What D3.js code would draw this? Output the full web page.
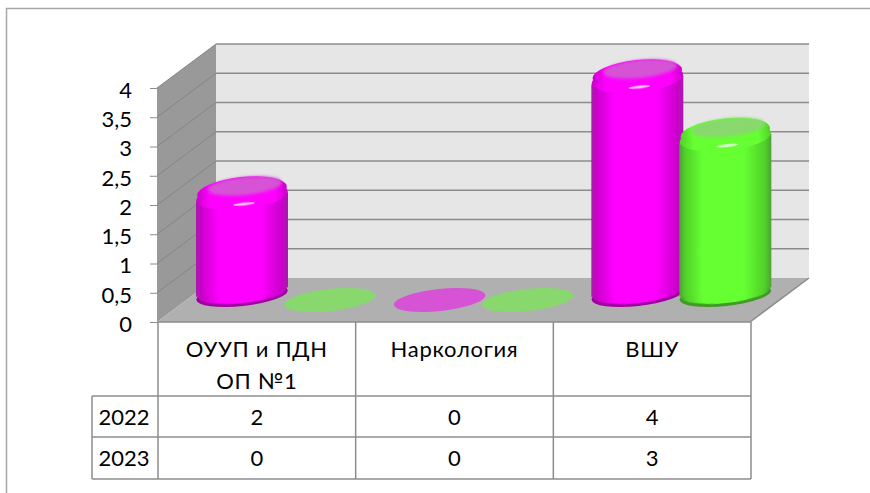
<!DOCTYPE html>
<html>
<head>
<meta charset="utf-8">
<script src="https://cdn.jsdelivr.net/npm/d3@7"></script>
<style>
	html, body { margin: 0; padding: 0; background: #fff; overflow: hidden; }
	text { font-family: Lato, "Open Sans", sans-serif; fill: #000; }
</style>
</head>
<body>
<div id="chart"></div>
<script>
var categories = [["ОУУП и ПДН", "ОП №1"], ["Наркология"], ["ВШУ"]];
var years = ["2022", "2023"];
var values2022 = [2, 0, 4];
var values2023 = [0, 0, 3];
var yTicks = [0, 0.5, 1, 1.5, 2, 2.5, 3, 3.5, 4];

var seriesList = [
	{ name: years[0], values: values2022, id: "pink" },
	{ name: years[1], values: values2023, id: "lime" }
];
var colors = {
	pink: { edge: "#a81aa8", dark: "#cc00cc", main: "#ff00ff", top: "#d653d6", rim: "#a000a0" },
	lime: { edge: "#4fa038", dark: "#50d028", main: "#66ff33", top: "#88d86e", rim: "#3f9a25" }
};

var lineGrey = "#8c8c8c";
var depthX = 59, depthY = -44;
var fontSize = 22;

var svg = d3.select("#chart").append("svg")
	.attr("width", 870)
	.attr("height", 493);

// outer frame, the picture is cut on the right and at the bottom
svg.append("path")
	.attr("d", "M6.5,493V8.5H870")
	.attr("fill", "none")
	.attr("stroke", "#a6a6a6")
	.attr("stroke-width", 1.5);

var y = d3.scaleLinear().domain([0, 4]).range([322, 88]);
var x = d3.scaleBand().domain(d3.range(categories.length)).range([158, 751]);

var defs = svg.append("defs");
defs.append("filter").attr("id", "soft")
	.append("feGaussianBlur").attr("stdDeviation", 0.6);
defs.append("filter").attr("id", "softer")
	.attr("x", "-30%").attr("y", "-50%").attr("width", "160%").attr("height", "200%")
	.append("feGaussianBlur").attr("stdDeviation", 1.6);

Object.keys(colors).forEach(function(k) {
	var c = colors[k];
	var g = defs.append("linearGradient").attr("id", "body-" + k);
	[[0, c.edge], [0.06, c.dark], [0.25, c.main], [0.7, c.main], [0.93, c.dark], [1, c.edge]].forEach(function(s) {
		g.append("stop").attr("offset", s[0]).attr("stop-color", s[1]);
	});
	var t = defs.append("linearGradient").attr("id", "shoulder-" + k);
	[[0, c.dark], [0.14, c.main], [0.86, c.main], [1, c.dark]].forEach(function(s) {
		t.append("stop").attr("offset", s[0]).attr("stop-color", s[1]);
	});
});

// walls and floor
var walls = svg.append("g");
walls.append("rect")
	.attr("x", 157 + depthX).attr("y", y(4) + depthY)
	.attr("width", 593).attr("height", y(0) - y(4))
	.attr("fill", "#e6e6e6");
walls.append("path")
	.attr("d", d3.line()([[157, y(0)], [157, y(4)], [157 + depthX, y(4) + depthY], [157 + depthX, y(0) + depthY]]) + "Z")
	.attr("fill", "#999999");
walls.append("path")
	.attr("d", d3.line()([[157, y(0)], [157 + depthX, y(0) + depthY], [750 + depthX, y(0) + depthY], [750, y(0)]]) + "Z")
	.attr("fill", "#b0b0b0");

// gridlines run along the side wall and then the back wall
yTicks.forEach(function(t) {
	if (t > 0) {
		walls.append("path")
			.attr("d", d3.line()([[157, y(t)], [157 + depthX, y(t) + depthY]]))
			.attr("fill", "none")
			.attr("stroke", "#858585");
		walls.append("path")
			.attr("d", d3.line()([[157 + depthX, y(t) + depthY], [750 + depthX, y(t) + depthY]]))
			.attr("fill", "none")
			.attr("stroke", lineGrey)
			.attr("stroke-width", 1.5);
	} else {
		walls.append("path")
			.attr("d", d3.line()([[157, y(t)], [750, y(t)], [750 + depthX, y(t) + depthY]]))
			.attr("fill", "none")
			.attr("stroke", lineGrey)
			.attr("stroke-width", 1.5);
	}
});

// y axis
var axis = svg.append("g").attr("transform", "translate(157,0)")
	.call(d3.axisLeft(y).tickValues(yTicks).tickSize(7).tickPadding(18)
		.tickFormat(function(d) { return String(d).replace(".", ","); }));
axis.select(".domain").remove();
axis.selectAll("line").attr("stroke", lineGrey);
axis.selectAll("text")
	.attr("font-size", fontSize)
	.attr("dy", "0.42em")
	.style("font-family", "Lato, 'Open Sans', sans-serif")
	.attr("fill", "#000");

// cylinders, one after the other so the 2023 one overlaps the 2022 one
var barW = 92;
var ry = 11, tilt = -6;
var barOffsets = [38, 126];
var yBar = d3.scaleLinear().domain([0, 4]).range([300, 66]);

function ellipse(g, cx, cy, rx, r) {
	return g.append("ellipse")
		.attr("cx", cx).attr("cy", cy)
		.attr("rx", rx).attr("ry", r)
		.attr("transform", "rotate(" + tilt + " " + cx + " " + cy + ")");
}

var marks = svg.append("g");
categories.forEach(function(cat, i) {
	seriesList.forEach(function(s, j) {
		var v = s.values[i];
		var c = colors[s.id];
		var left = x(i) + barOffsets[j];
		var cx = left + barW / 2;
		if (v === 0) {
			ellipse(marks, cx, yBar(0), barW / 2, ry).attr("fill", c.top);
			return;
		}
		var g = marks.append("g").attr("filter", "url(#soft)");
		var bottom = yBar(0) - 5, top = yBar(v) + 8;
		var rad = tilt * Math.PI / 180;
		var dy = Math.sin(rad) * barW / 2;
		// dark rim at the foot, then the body over it
		ellipse(g, cx, bottom, barW / 2, ry).attr("fill", c.rim);
		ellipse(g, cx, bottom - 3, barW / 2 - 1, ry)
			.attr("fill", "url(#body-" + s.id + ")")
			.attr("filter", "url(#soft)");
		g.append("path")
			.attr("d", "M" + left + "," + (bottom - 3 - dy) + "L" + left + "," + (top + 6 - dy) +
				"L" + (left + barW) + "," + (top + 6 + dy) + "L" + (left + barW) + "," + (bottom - 3 + dy) + "Z")
			.attr("fill", "url(#body-" + s.id + ")");
		// rounded shoulder with the pale flat top and a small highlight
		ellipse(g, cx, top + 5, barW / 2, ry + 2).attr("fill", "url(#shoulder-" + s.id + ")");
		ellipse(g, cx, top, barW / 2 - 1, ry + 3).attr("fill", "url(#shoulder-" + s.id + ")");
		ellipse(marks, cx + 3, top - 5, barW / 2 - 9, ry - 2)
			.attr("fill", c.top)
			.attr("filter", "url(#softer)");
		ellipse(marks, cx + 2, top + 13, 11, 1.5)
			.attr("fill", "#fff")
			.attr("opacity", 0.75)
			.attr("filter", "url(#soft)");
	});
});

// data table under the plot
var rowY = [322, 396, 437, 479];
var table = svg.append("g").attr("stroke", lineGrey).attr("stroke-width", 1.5);
x.domain().concat([categories.length]).forEach(function(i) {
	var xp = i < categories.length ? x(i) : x.range()[1];
	table.append("line").attr("x1", xp).attr("x2", xp).attr("y1", rowY[0]).attr("y2", rowY[3]);
});
rowY.slice(1).forEach(function(yp) {
	table.append("line").attr("x1", 92).attr("x2", x.range()[1]).attr("y1", yp).attr("y2", yp);
});
table.append("line").attr("x1", 92).attr("x2", 92).attr("y1", rowY[1]).attr("y2", rowY[3]);

categories.forEach(function(cat, i) {
	cat.forEach(function(line, k) {
		svg.append("text")
			.attr("x", x(i) + x.bandwidth() / 2)
			.attr("y", 357 + k * 32)
			.attr("text-anchor", "middle")
			.attr("font-size", fontSize)
			.attr("letter-spacing", 0.7)
			.text(line);
	});
});
seriesList.forEach(function(s, j) {
	var base = rowY[j + 1] + 29;
	svg.append("text").attr("x", 124).attr("y", base)
		.attr("text-anchor", "middle").attr("font-size", fontSize).text(s.name);
	s.values.forEach(function(v, i) {
		svg.append("text")
			.attr("x", x(i) + x.bandwidth() / 2)
			.attr("y", base)
			.attr("text-anchor", "middle")
			.attr("font-size", fontSize)
			.text(v);
	});
});
</script>
</body>
</html>
